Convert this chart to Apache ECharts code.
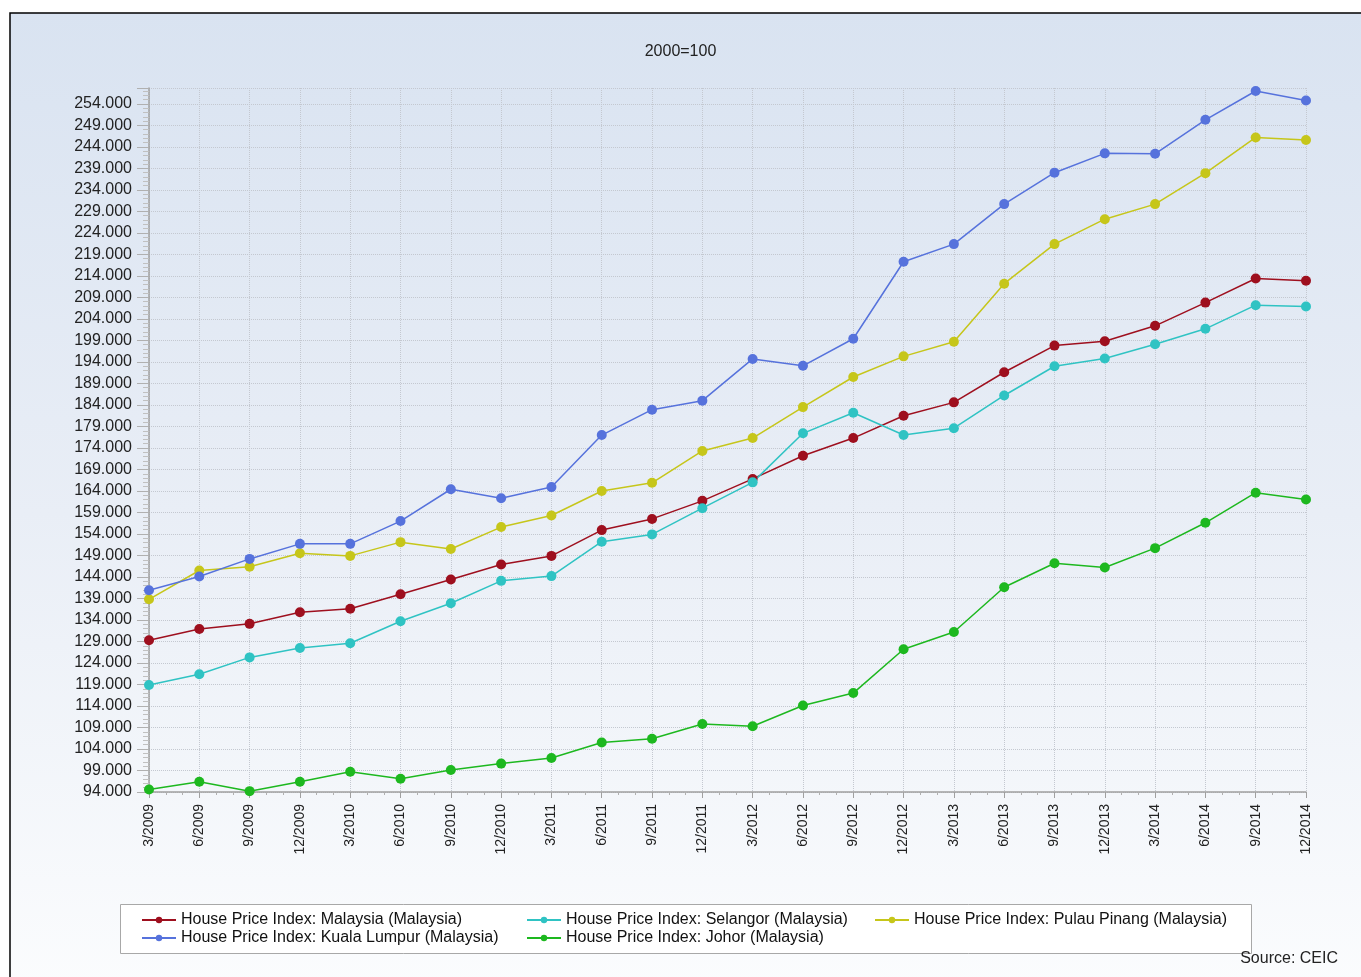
<!DOCTYPE html>
<html>
<head>
<meta charset="utf-8">
<script src="https://cdn.jsdelivr.net/npm/echarts@6/dist/echarts.min.js"></script>
<style>
  html, body { margin: 0; padding: 0; background: #ffffff; }
  #chart { width: 1361px; height: 977px; }
</style>
</head>
<body>
<div id="chart"></div>
<script>
const categories = ['3/2009','6/2009','9/2009','12/2009','3/2010','6/2010','9/2010','12/2010','3/2011','6/2011','9/2011','12/2011','3/2012','6/2012','9/2012','12/2012','3/2013','6/2013','9/2013','12/2013','3/2014','6/2014','9/2014','12/2014'];

const malaysia = [129.3,131.9,133.1,135.8,136.6,140.0,143.4,146.9,148.9,154.9,157.5,161.7,166.8,172.2,176.3,181.5,184.6,191.6,197.8,198.8,202.4,207.8,213.4,212.9];
const selangor = [118.9,121.4,125.3,127.5,128.6,133.7,137.9,143.1,144.2,152.2,153.9,160.0,166.0,177.4,182.2,177.0,178.6,186.2,193.0,194.8,198.1,201.7,207.2,206.9];
const pulauPinang = [138.8,145.5,146.4,149.5,148.9,152.1,150.5,155.6,158.3,164.0,165.9,173.3,176.3,183.5,190.5,195.3,198.7,212.2,221.4,227.2,230.7,237.9,246.2,245.6];
const kualaLumpur = [140.9,144.1,148.2,151.7,151.7,157.0,164.4,162.3,164.9,177.0,182.9,185.0,194.7,193.1,199.4,217.3,221.4,230.7,238.0,242.5,242.4,250.3,257.0,254.8];
const johor = [94.6,96.4,94.2,96.4,98.7,97.1,99.1,100.6,101.9,105.5,106.4,109.8,109.3,114.1,117.0,127.2,131.2,141.6,147.2,146.2,150.7,156.6,163.6,162.0];

const seriesNames = [
  'House Price Index: Malaysia (Malaysia)',
  'House Price Index: Selangor (Malaysia)',
  'House Price Index: Pulau Pinang (Malaysia)',
  'House Price Index: Kuala Lumpur (Malaysia)',
  'House Price Index: Johor (Malaysia)'
];
const titleText = '2000=100';
const sourceText = 'Source: CEIC';
const yMin = 94, yMax = 257.7, yStep = 5;

const colors = ['#9e0f1e', '#2fc3c3', '#c6c61a', '#5672dc', '#1db81f'];
const values = [malaysia, selangor, pulauPinang, kualaLumpur, johor];
const FONT = 'Arial, "Liberation Sans", sans-serif';

const chart = echarts.init(document.getElementById('chart'), null, { renderer: 'canvas' });

const series = values.map((vals, i) => ({
  name: seriesNames[i],
  type: 'line',
  data: vals.map((v, k) => [k, v]),
  symbol: 'circle',
  symbolSize: 10,
  showSymbol: true,
  color: colors[i],
  lineStyle: { width: 1.5, color: colors[i] },
  itemStyle: { color: colors[i] },
  emphasis: { disabled: true },
  animation: false,
  clip: false
}));

const legendBase = {
  orient: 'vertical',
  itemWidth: 34,
  itemHeight: 8,
  itemGap: 0,
  textStyle: { fontFamily: FONT, fontSize: 16, color: '#111', lineHeight: 18 },
  selectedMode: false,
  top: 906
};

chart.setOption({
  animation: false,
  backgroundColor: '#ffffff',
  graphic: [
    {
      type: 'rect', z: -10, silent: true,
      shape: { x: 10, y: 13, width: 1400, height: 1000 },
      style: {
        fill: {
          type: 'linear', x: 0, y: 0, x2: 0, y2: 1,
          colorStops: [
            { offset: 0, color: '#d9e3f1' },
            { offset: 0.5, color: '#e9eef6' },
            { offset: 1, color: '#fcfdfe' }
          ]
        },
        stroke: '#000000', lineWidth: 1.5
      }
    },
    {
      type: 'rect', z: -5, silent: true,
      shape: { x: 120.5, y: 904.5, width: 1131, height: 49 },
      style: { fill: '#ffffff', stroke: '#a8a8a8', lineWidth: 1 }
    },
    {
      type: 'text', silent: true,
      right: 23, top: 951,
      style: { text: sourceText, font: '16px ' + FONT, fill: '#222' }
    }
  ],
  title: {
    text: titleText,
    left: 'center',
    top: 39,
    textStyle: { fontFamily: FONT, fontSize: 16, fontWeight: 'normal', color: '#222' }
  },
  legend: [
    Object.assign({}, legendBase, { left: 136, data: [seriesNames[0], seriesNames[3]] }),
    Object.assign({}, legendBase, { left: 521, data: [seriesNames[1], seriesNames[4]] }),
    Object.assign({}, legendBase, { left: 869, data: [seriesNames[2]] })
  ],
  grid: { left: 149, right: 55, top: 88, bottom: 185, containLabel: false },
  xAxis: {
    type: 'value',
    min: 0,
    max: categories.length - 1,
    interval: 1,
    axisLine: { show: true, lineStyle: { color: '#a0a0a0', width: 1.5 } },
    axisTick: { show: true, length: 6, lineStyle: { color: '#a0a0a0' } },
    minorTick: { show: true, splitNumber: 3, length: 3, lineStyle: { color: '#b0b0b0' } },
    axisLabel: {
      rotate: 90,
      margin: 12,
      fontFamily: FONT,
      fontSize: 14,
      color: '#222',
      formatter: v => categories[v] || ''
    },
    splitLine: { show: true, lineStyle: { color: '#c4c8d0', type: 'dotted', width: 1 } }
  },
  yAxis: {
    type: 'value',
    min: yMin,
    max: yMax,
    interval: yStep,
    axisLine: { show: true, lineStyle: { color: '#a0a0a0', width: 1.5 } },
    axisTick: { show: true, length: 12, lineStyle: { color: '#b0b0b0' } },
    minorTick: { show: true, splitNumber: 5, length: 6, lineStyle: { color: '#c0c0c0' } },
    axisLabel: {
      margin: 17,
      fontFamily: FONT,
      fontSize: 16,
      color: '#222',
      showMaxLabel: false,
      formatter: v => v.toFixed(3)
    },
    splitLine: { show: true, lineStyle: { color: '#c4c8d0', type: 'dotted', width: 1 } }
  },
  series: series
});
</script>
</body>
</html>
